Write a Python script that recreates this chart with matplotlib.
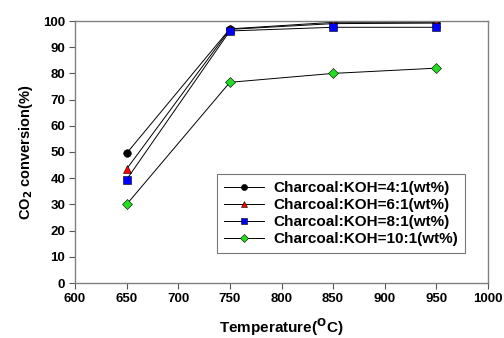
import matplotlib
matplotlib.use("Agg")
import matplotlib.pyplot as plt

plt.rcParams['font.family'] = ['Liberation Sans', 'DejaVu Sans']
plt.rcParams['font.weight'] = 'bold'

temperature = [650, 750, 850, 950]
ratio_4 = [49.5, 97.0, 99.5, 99.5]
ratio_6 = [43.5, 96.8, 99.0, 99.2]
ratio_8 = [39.5, 96.2, 97.6, 97.6]
ratio_10 = [30.0, 76.6, 80.0, 82.0]

labels = ["Charcoal:KOH=4:1(wt%)", "Charcoal:KOH=6:1(wt%)",
          "Charcoal:KOH=8:1(wt%)", "Charcoal:KOH=10:1(wt%)"]
markers = ['o', '^', 's', 'D']
colors = ['black', 'red', 'blue', '#22dd22']

fig = plt.figure(figsize=(5.04, 3.38), dpi=100)
ax = fig.add_axes([75 / 504, 1 - 283 / 338, 413 / 504, 262 / 338])

for series, lab, mk, col in zip([ratio_4, ratio_6, ratio_8, ratio_10], labels, markers, colors):
    ms = 5 if mk == 'D' else 5.5
    ax.plot(temperature, series, color='black', linewidth=0.7, marker=mk,
            markersize=ms, markerfacecolor=col, markeredgecolor='black',
            markeredgewidth=0.4, label=lab)

ax.set_xlim(600, 1000)
ax.set_ylim(0, 100)
ax.set_xticks(range(600, 1001, 50))
ax.set_yticks(range(0, 101, 10))
ax.tick_params(direction='out', length=4, width=0.8, labelsize=9.5, color='#555555', pad=3)
for s in ax.spines.values():
    s.set_color('#808080')
    s.set_linewidth(1.0)

ax.set_xlabel('Temperature($\\mathbf{^{O}}$C)', fontsize=11, fontweight='bold', labelpad=8)
ax.set_ylabel('CO$\\mathbf{_2}$ conversion(%)', fontsize=10.5, fontweight='bold', labelpad=6)

leg = ax.legend(loc='lower right', bbox_to_anchor=(0.962, 0.085), fontsize=11,
                frameon=True, fancybox=False, edgecolor='#555555', markerscale=0.8,
                handlelength=2.6, handletextpad=0.6, labelspacing=0.2, borderpad=0.45)
leg.get_frame().set_linewidth(0.8)

fig.savefig('out.png', dpi=100)
